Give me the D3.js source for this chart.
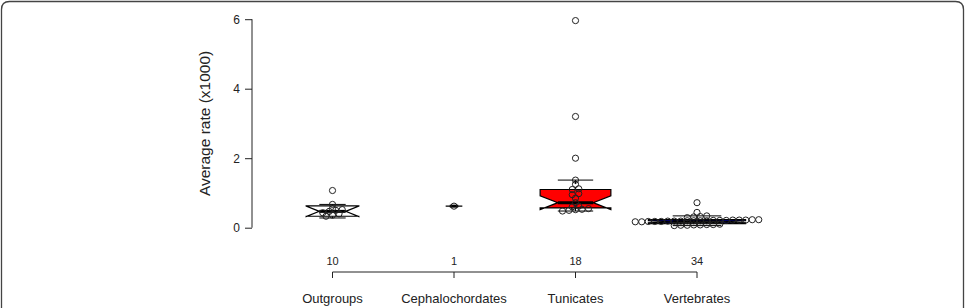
<!DOCTYPE html>
<html>
<head>
<meta charset="utf-8">
<script src="https://cdn.jsdelivr.net/npm/d3@7"></script>
<style>
  body { margin: 0; background: #fff; }
  svg { display: block; font-family: "Liberation Sans", Arial, Helvetica, sans-serif; }
</style>
</head>
<body>
<div id="chart"></div>
<script>
// groups and sample sizes
var groups = ["Outgroups", "Cephalochordates", "Tunicates", "Vertebrates"];
var counts = [10, 1, 18, 34];

// boxplot statistics per group (x1000)
var whiskerLow  = [0.28, 0.62, 0.48, 0.06];
var hingeLow    = [0.33, 0.62, 0.57, 0.12];
var medians     = [0.47, 0.62, 0.72, 0.17];
var hingeHigh   = [0.63, 0.62, 1.10, 0.23];
var whiskerHigh = [0.67, 0.62, 1.37, 0.34];

// individual rates (beeswarm points)
var outgroupRates = [0.33, 0.36, 0.40, 0.43, 0.47, 0.50, 0.52, 0.55, 0.67, 1.07];
var cephalochordateRates = [0.62];
var tunicateRates = [0.48, 0.50, 0.52, 0.53, 0.55, 0.60, 0.62, 0.72, 0.85, 0.95,
  0.98, 1.10, 1.12, 1.25, 1.37, 2.00, 3.20, 5.96];
var vertebrateRates = [0.06, 0.07, 0.07, 0.08, 0.08, 0.09, 0.09, 0.10,
  0.17, 0.17, 0.18, 0.18, 0.18, 0.19, 0.19, 0.19, 0.20, 0.20, 0.20, 0.20,
  0.21, 0.21, 0.21, 0.22, 0.22, 0.22, 0.23, 0.23,
  0.29, 0.31, 0.32, 0.34, 0.44, 0.72];
var yTicks = [0, 2, 4, 6];

var rates = [outgroupRates, cephalochordateRates, tunicateRates, vertebrateRates];
var boxFill = ["#ffffff", "#ffffff", "#ff0000", "#000080"];

var width = 965, height = 308;

var svg = d3.select("#chart").append("svg")
    .attr("width", width)
    .attr("height", height);

// frame
svg.append("path")
    .attr("d", "M1.5," + height + " V9.5 Q1.5,1.5 9.5,1.5 H955.5 Q963.5,1.5 963.5,9.5 V" + height)
    .attr("fill", "none")
    .attr("stroke", "#444")
    .attr("stroke-width", 1.3);

var y = d3.scaleLinear().domain([0, 6]).range([227.7, 19.2]);
var x = d3.scalePoint().domain(groups).range([332.5, 697]);

var step = x(groups[1]) - x(groups[0]);
var maxN = d3.max(counts);
function boxWidth(n) { return 0.8 * step * Math.sqrt(n / maxN); }

// y axis
var yAxis = svg.append("g")
    .attr("transform", "translate(252,0)")
    .call(d3.axisLeft(y).tickValues(yTicks).tickFormat(d3.format("d")).tickSize(7).tickPadding(5));
yAxis.select(".domain").attr("d", "M0," + y(0) + "V" + y(6)).attr("stroke", "#222");
yAxis.selectAll(".tick line").attr("stroke", "#222");
yAxis.selectAll("text").attr("font-size", 12).attr("fill", "#222").attr("font-family", null);

svg.append("text")
    .attr("transform", "translate(210," + ((y(0) + y(6)) / 2) + ") rotate(-90)")
    .attr("text-anchor", "middle")
    .attr("font-size", 15.5)
    .attr("fill", "#222")
    .text("Average rate (x1000)");

// boxes
groups.forEach(function(g, i) {
  var cx = x(g);
  var wid = boxWidth(counts[i]) / 2;
  var iqr = hingeHigh[i] - hingeLow[i];
  var confLo = medians[i] - 1.58 * iqr / Math.sqrt(counts[i]);
  var confHi = medians[i] + 1.58 * iqr / Math.sqrt(counts[i]);
  var gBox = svg.append("g");

  // whiskers
  [[whiskerLow[i], hingeLow[i]], [whiskerHigh[i], hingeHigh[i]]].forEach(function(w) {
    gBox.append("line")
        .attr("x1", cx).attr("x2", cx)
        .attr("y1", y(w[0])).attr("y2", y(w[1]))
        .attr("stroke", "#000").attr("stroke-dasharray", "4,3");
    gBox.append("line")
        .attr("x1", cx - wid * 0.5).attr("x2", cx + wid * 0.5)
        .attr("y1", y(w[0])).attr("y2", y(w[0]))
        .attr("stroke", "#000");
  });

  // notched box (notch may fold outside the hinges)
  var fx = [-1, 1, 1, 0.5, 1, 1, -1, -1, -0.5, -1];
  var fy = [hingeLow[i], hingeLow[i], confLo, medians[i], confHi, hingeHigh[i], hingeHigh[i], confHi, medians[i], confLo];
  var pts = fx.map(function(f, k) { return [cx + wid * f, y(fy[k])]; });
  gBox.append("path")
      .attr("d", d3.line()(pts) + "Z")
      .attr("fill", boxFill[i])
      .attr("stroke", "#000")
      .attr("stroke-width", 1.2);

  gBox.append("line")
      .attr("x1", cx - wid * 0.5).attr("x2", cx + wid * 0.5)
      .attr("y1", y(medians[i])).attr("y2", y(medians[i]))
      .attr("stroke", "#000").attr("stroke-width", 3);
});

// beeswarm points, binned into rows and centred
var r = 3.1, dx = 6.5, rowGap = 3.3;
groups.forEach(function(g, i) {
  var vals = rates[i].slice().sort(d3.ascending);
  var rows = [];
  vals.forEach(function(v) {
    var last = rows[rows.length - 1];
    if (last && Math.abs(y(last[0]) - y(v)) <= rowGap + 0.01) last.push(v);
    else rows.push([v]);
  });
  var placed = [];
  rows.forEach(function(row) {
    row.forEach(function(v, k) {
      placed.push({ x: x(g) + (k - (row.length - 1) / 2) * dx, v: v });
    });
  });
  svg.append("g").selectAll("circle")
      .data(placed)
      .join("circle")
      .attr("cx", function(d) { return d.x; })
      .attr("cy", function(d) { return y(d.v); })
      .attr("r", r)
      .attr("fill", "none")
      .attr("stroke", "#222")
      .attr("stroke-width", 1);
});

// group axis with counts above and names below
var axisY = 272;
svg.append("line")
    .attr("x1", x(groups[0])).attr("x2", x(groups[groups.length - 1]))
    .attr("y1", axisY).attr("y2", axisY)
    .attr("stroke", "#222");
svg.append("g").selectAll("line")
    .data(groups)
    .join("line")
    .attr("x1", function(d) { return x(d); })
    .attr("x2", function(d) { return x(d); })
    .attr("y1", axisY).attr("y2", axisY + 6)
    .attr("stroke", "#222");
svg.append("g").selectAll("text")
    .data(groups)
    .join("text")
    .attr("x", function(d) { return x(d); })
    .attr("y", 265)
    .attr("text-anchor", "middle")
    .attr("font-size", 11)
    .attr("fill", "#222")
    .text(function(d, i) { return counts[i]; });
svg.append("g").selectAll("text")
    .data(groups)
    .join("text")
    .attr("x", function(d) { return x(d); })
    .attr("y", 303)
    .attr("text-anchor", "middle")
    .attr("font-size", 13)
    .attr("fill", "#222")
    .text(function(d) { return d; });
</script>
</body>
</html>
